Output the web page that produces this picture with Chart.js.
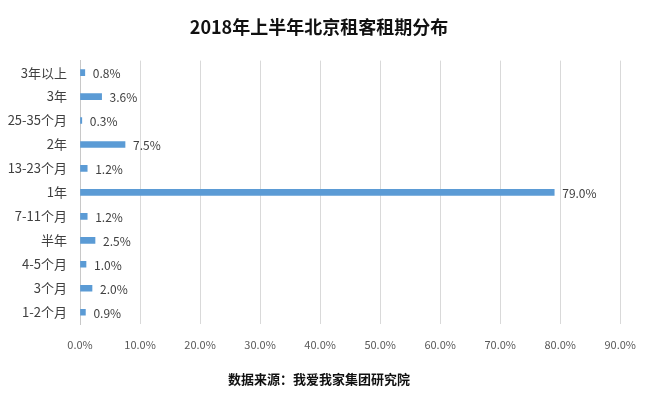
<!DOCTYPE html>
<html>
<head>
  <meta charset="utf-8">
  <title>2018年上半年北京租客租期分布</title>
  <style>
    html, body { margin: 0; padding: 0; background: #fff; }
    #wrap { width: 650px; height: 399px; }
  </style>
  <script src="https://cdn.jsdelivr.net/npm/chart.js"></script>
</head>
<body>
  <div id="wrap"><canvas id="leaseChart"></canvas></div>
  <script>
    const categories = ['3年以上', '3年', '25-35个月', '2年', '13-23个月', '1年', '7-11个月', '半年', '4-5个月', '3个月', '1-2个月'];
    const shares = [0.8, 3.6, 0.3, 7.5, 1.2, 79.0, 1.2, 2.5, 1.0, 2.0, 0.9];
    const xTicks = [0, 10, 20, 30, 40, 50, 60, 70, 80, 90];

    const cjk = '"Microsoft YaHei", "Noto Sans CJK SC", sans-serif';

    // value labels to the right of each bar
    const barLabels = {
      id: 'barLabels',
      afterDatasetsDraw(chart) {
        const ctx = chart.ctx;
        const meta = chart.getDatasetMeta(0);
        ctx.save();
        ctx.font = '12px ' + cjk;
        ctx.fillStyle = '#404040';
        ctx.textBaseline = 'middle';
        meta.data.forEach((bar, i) => {
          ctx.fillText(shares[i].toFixed(1) + '%', bar.x + 8, bar.y + 1);
        });
        ctx.restore();
      }
    };

    new Chart(document.getElementById('leaseChart'), {
      type: 'bar',
      data: {
        labels: categories,
        datasets: [{
          data: shares,
          backgroundColor: '#5b9bd5',
          barThickness: 6
        }]
      },
      options: {
        indexAxis: 'y',
        responsive: true,
        maintainAspectRatio: false,
        animation: false,
        layout: { padding: { left: 2, right: 14, top: 0, bottom: 2 } },
        scales: {
          x: {
            min: 0,
            max: 90,
            afterBuildTicks(axis) { axis.ticks = xTicks.map(v => ({ value: v })); },
            grid: { color: '#d9d9d9', drawTicks: false },
            border: { display: false },
            ticks: {
              padding: 14,
              color: '#595959',
              font: { size: 11, family: cjk },
              callback: v => Number(v).toFixed(1) + '%'
            }
          },
          y: {
            afterFit(axis) { axis.width = 78; },
            grid: { display: false, drawTicks: false },
            border: { display: true, color: '#c8c8c8' },
            ticks: {
              padding: 13,
              color: '#404040',
              font: { size: 13, family: cjk }
            }
          }
        },
        plugins: {
          legend: { display: false },
          tooltip: { enabled: false },
          title: {
            display: true,
            text: '2018年上半年北京租客租期分布',
            color: '#111',
            font: { size: 18, weight: 'bold', family: cjk },
            padding: { top: 16, bottom: 23 }
          },
          subtitle: {
            display: true,
            position: 'bottom',
            text: '数据来源：我爱我家集团研究院',
            color: '#111',
            font: { size: 13, weight: 'bold', family: cjk },
            padding: { top: 6, bottom: 10 }
          }
        }
      },
      plugins: [barLabels]
    });
  </script>
</body>
</html>
